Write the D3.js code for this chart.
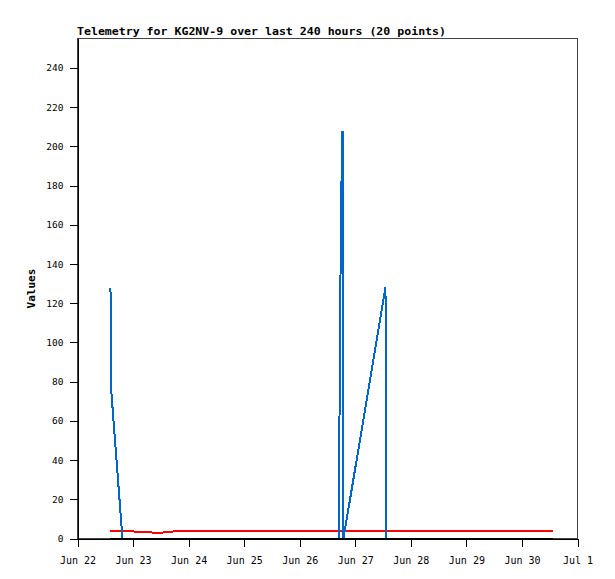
<!DOCTYPE html>
<html><head><meta charset="utf-8">
<script src="https://cdn.jsdelivr.net/npm/d3@7"></script>
<style>
html,body{margin:0;padding:0;background:#fff;}
svg{display:block;}
text{font-family:"DejaVu Sans Mono",monospace;fill:#000;}
</style></head>
<body>
<script>
const titleText = "Telemetry for KG2NV-9 over last 240 hours (20 points)";
const yLabel = "Values";
const times = [
  "2023-06-22T14:15","2023-06-22T14:28","2023-06-22T19:26","2023-06-22T22:02",
  "2023-06-23T00:37","2023-06-23T06:40","2023-06-23T08:24","2023-06-23T12:43",
  "2023-06-23T14:26","2023-06-23T17:02","2023-06-23T18:46","2023-06-26T16:52",
  "2023-06-26T17:03","2023-06-26T17:24","2023-06-26T17:54","2023-06-26T18:29",
  "2023-06-26T18:54","2023-06-27T13:03","2023-06-27T13:16","2023-06-30T13:36"
];
const blueValues = [128,77,0,0,0,0,0,0,0,0,0,0,35,104,173,208,0,128,0,0];
const redValues  = [4,4,4,4,3.5,3.5,3,3,3.5,3.5,4,4,4,4,4,4,4,4,4,4];
const blackValues= [0,0,0,0,0,0,0,0,0,0,0,0,0,0,0,0,0,0,0,0];
const xTickDates = ["2023-06-22T00:00","2023-06-23T00:00","2023-06-24T00:00","2023-06-25T00:00",
  "2023-06-26T00:00","2023-06-27T00:00","2023-06-28T00:00","2023-06-29T00:00",
  "2023-06-30T00:00","2023-07-01T00:00"];
const xTickLabels = ["Jun 22","Jun 23","Jun 24","Jun 25","Jun 26","Jun 27","Jun 28","Jun 29","Jun 30","Jul 1"];
const yTicks = [0,20,40,60,80,100,120,140,160,180,200,220,240];
const yMax = 255;

const parse = d3.utcParse("%Y-%m-%dT%H:%M");
const T = times.map(parse);
const xTicks = xTickDates.map(parse);

const W = 615, H = 579;
const svg = d3.select("body").append("svg").attr("width", W).attr("height", H);

const x = d3.scaleUtc().domain([xTicks[0], xTicks[xTicks.length-1]]).range([77.5, 577.5]);
const y = d3.scaleLinear().domain([0, yMax]).range([538.5, 38.5]);

// frame (top/right gray)
svg.append("rect").attr("x", 77.5).attr("y", 38.5).attr("width", 500).attr("height", 500)
  .attr("fill", "none").attr("stroke", "#444").attr("stroke-width", 1)
  .attr("shape-rendering", "crispEdges");

// series
const line = vals => d3.line().x((d,i)=>x(T[i])).y(d=>y(d))(vals);
const series = [[redValues, "#ff0000"], [blueValues, "#0066cc"], [blackValues, "#000000"]];
series.forEach(([vals, c]) => {
  svg.append("path").attr("d", line(vals)).attr("fill","none").attr("stroke", c)
    .attr("stroke-width", 2).attr("shape-rendering","crispEdges").attr("stroke-linejoin","miter");
});

// y axis
const yAxis = d3.axisLeft(y).tickValues(yTicks).tickSize(8).tickPadding(6).tickSizeOuter(0);
const gy = svg.append("g").attr("transform", "translate(77.5,0)").call(yAxis);
gy.select(".domain").attr("stroke", "#000").attr("shape-rendering","crispEdges");
gy.selectAll(".tick line").attr("stroke", "#000").attr("shape-rendering","crispEdges");
gy.selectAll(".tick text").attr("font-family", '"DejaVu Sans Mono",monospace').attr("font-size", 9.5).attr("fill","#000");

// x axis
const xAxis = d3.axisBottom(x).tickValues(xTicks).tickFormat((d,i)=>xTickLabels[i]).tickSize(8).tickPadding(10).tickSizeOuter(0);
const gx = svg.append("g").attr("transform", "translate(0,538.5)").call(xAxis);
gx.select(".domain").attr("stroke", "#000").attr("shape-rendering","crispEdges");
gx.selectAll(".tick line").attr("stroke", "#000").attr("shape-rendering","crispEdges");
gx.selectAll(".tick text").attr("font-family", '"DejaVu Sans Mono",monospace').attr("font-size", 10).attr("fill","#000");

// title
svg.append("text").attr("x", 77).attr("y", 35).attr("font-size", 11).attr("font-weight", "bold")
  .attr("textLength", 369).attr("lengthAdjust", "spacingAndGlyphs").text(titleText);

// y label
svg.append("text").attr("transform", "translate(35,288.5) rotate(-90)").attr("text-anchor", "middle")
  .attr("font-size", 11).attr("font-weight", "bold").text(yLabel);
</script>
</body></html>
